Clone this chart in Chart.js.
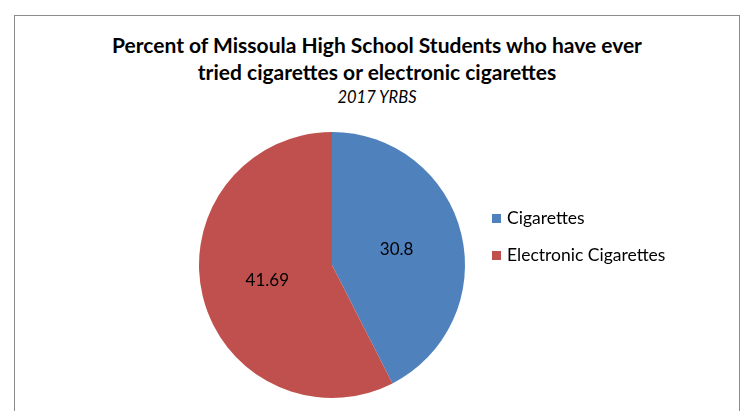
<!DOCTYPE html>
<html>
<head>
<meta charset="utf-8">
<script src="https://cdn.jsdelivr.net/npm/chart.js@4.4.1/dist/chart.umd.min.js"></script>
<style>
  html, body { margin: 0; padding: 0; background: #fff; overflow: hidden; }
  #wrap { position: relative; width: 745px; height: 411px; font-family: Lato, "Open Sans", sans-serif; }
  #frame { position: absolute; left: 14px; top: 15px; width: 724px; height: 420px; border: 1px solid #8c8c8c; }
  #title { position: absolute; left: 14px; width: 726px; top: 31px; text-align: center; font-weight: bold; font-size: 21px; line-height: 27px; color: #000; }
  #subtitle { position: absolute; left: 14px; width: 726px; top: 87px; text-align: center; font-style: italic; font-size: 16.5px; line-height: 20px; color: #000; }
  #myChart { position: absolute; left: 0; top: 0; }
</style>
</head>
<body>
<div id="wrap">
  <div id="frame"></div>
  <div id="title">Percent of Missoula High School Students who have ever<br>tried cigarettes or electronic cigarettes</div>
  <div id="subtitle">2017 YRBS</div>
  <canvas id="myChart" width="745" height="411"></canvas>
</div>
<script>
  // data
  const categories = ['Cigarettes', 'Electronic Cigarettes'];
  const percents = [30.8, 41.69];
  const sliceColors = ['#4F81BD', '#C0504D'];

  // label angka di tengah2 tiap potongan
  const sliceLabels = {
    id: 'sliceLabels',
    afterDatasetsDraw(chart) {
      const ctx = chart.ctx;
      const meta = chart.getDatasetMeta(0);
      ctx.save();
      ctx.font = '17px Lato';
      ctx.fillStyle = '#000';
      ctx.textAlign = 'center';
      ctx.textBaseline = 'middle';
      meta.data.forEach(function (arc, i) {
        const pos = arc.tooltipPosition();
        ctx.fillText(String(chart.data.datasets[0].data[i]), pos.x, pos.y);
      });
      ctx.restore();
    }
  };

  // legend sendiri biar posisinya pas kayak di excel
  const sideLegend = {
    id: 'sideLegend',
    afterDraw(chart) {
      const ctx = chart.ctx;
      const ds = chart.data.datasets[0];
      ctx.save();
      ctx.font = '17.5px Lato';
      ctx.textBaseline = 'middle';
      chart.data.labels.forEach(function (label, i) {
        const y = 218 + i * 37;
        ctx.fillStyle = ds.backgroundColor[i];
        ctx.fillRect(492, y - 4, 9, 9);
        ctx.fillStyle = '#000';
        ctx.fillText(label, 507, y);
      });
      ctx.restore();
    }
  };

  new Chart(document.getElementById('myChart'), {
    type: 'pie',
    data: {
      labels: categories,
      datasets: [{
        data: percents,
        backgroundColor: sliceColors,
        borderWidth: 0
      }]
    },
    options: {
      responsive: false,
      devicePixelRatio: 1,
      animation: false,
      layout: {
        padding: { left: 199, right: 280, top: 132, bottom: 13 }
      },
      plugins: {
        legend: { display: false },
        tooltip: { enabled: false }
      }
    },
    plugins: [sliceLabels, sideLegend]
  });
</script>
</body>
</html>
